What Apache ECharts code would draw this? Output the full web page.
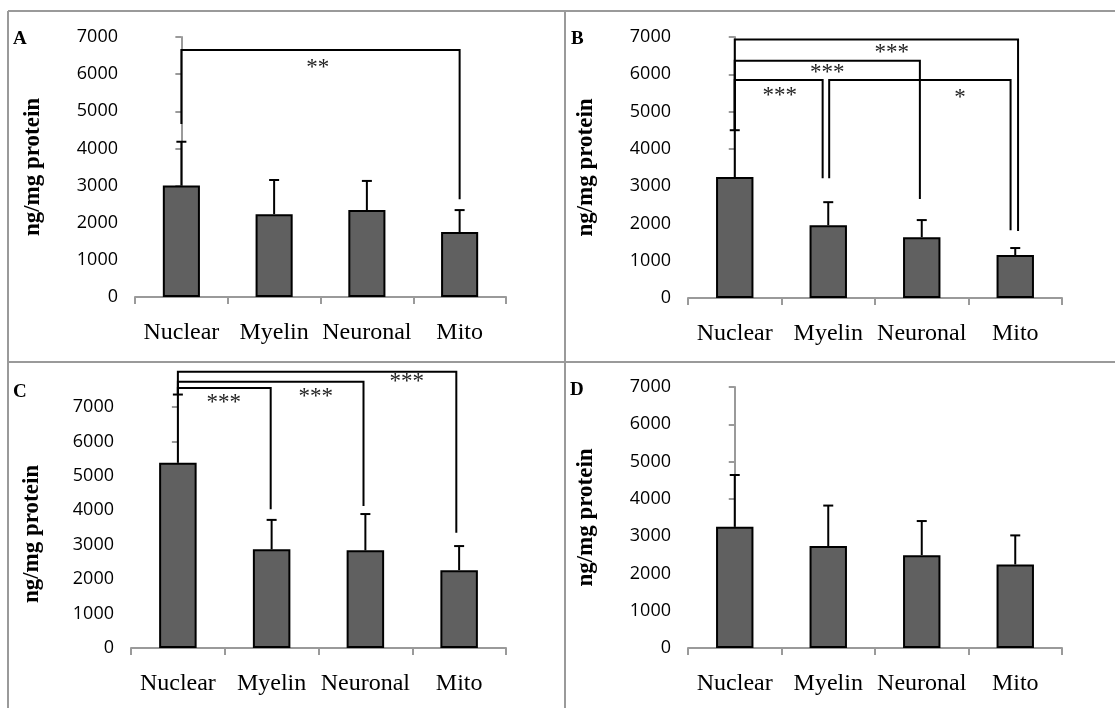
<!DOCTYPE html>
<html>
<head>
<meta charset="utf-8">
<script src="https://cdn.jsdelivr.net/npm/echarts@6/dist/echarts.min.js"></script>
<style>
  html, body { margin: 0; padding: 0; background: #fff; }
  #main { width: 1115px; height: 708px; }
</style>
</head>
<body>
<div id="main"></div>
<script>
var categories = ['Nuclear', 'Myelin', 'Neuronal', 'Mito'];
var yTicks = [0, 1000, 2000, 3000, 4000, 5000, 6000, 7000];
var panelNames = ['A', 'B', 'C', 'D'];

// mean values and SD (error bar length, upper side only)
var meanA = [3000, 2230, 2340, 1750];
var sdA = [1180, 920, 785, 590];
var meanB = [3245, 1950, 1630, 1150];
var sdB = [1255, 620, 460, 190];
var meanC = [5380, 2865, 2835, 2260];
var sdC = [1980, 855, 1055, 700];
var meanD = [3250, 2735, 2490, 2240];
var sdD = [1390, 1085, 915, 780];

// significance brackets: [xFrom, xTo, yBar, yEndFrom, yEndTo] (x in category index units)
var bracketsA = [[0, 3, 6650, 4660, 2630]];
var bracketsB = [[0, 3.03, 6935, 4500, 1800], [0, 1.98, 6360, 4500, 2655], [0, 0.94, 5845, 4500, 3210], [1.01, 2.95, 5845, 3210, 1820]];
var bracketsC = [[0, 2.97, 8020, 7360, 3350], [0, 1.98, 7730, 7360, 4125], [0, 0.99, 7550, 7360, 4030]];
var bracketsD = [];

// star labels: [x, y, text]
var starsA = [[1.47, 6245, '**']];
var starsB = [[0.48, 5500, '***'], [0.99, 6110, '***'], [1.68, 6650, '***'], [2.41, 5440, '*']];
var starsC = [[0.49, 7210, '***'], [1.47, 7380, '***'], [2.44, 7800, '***']];
var starsD = [];

var yMax = [7000, 7000, 7550, 7000];

var panels = [
    { mean: meanA, sd: sdA, brackets: bracketsA, stars: starsA },
    { mean: meanB, sd: sdB, brackets: bracketsB, stars: starsB },
    { mean: meanC, sd: sdC, brackets: bracketsC, stars: starsC },
    { mean: meanD, sd: sdD, brackets: bracketsD, stars: starsD }
];

var grids = [
    { left: 135, top: 37, width: 371, height: 260 },
    { left: 688, top: 37, width: 374, height: 261 },
    { left: 131, top: 388, width: 375, height: 260 },
    { left: 688, top: 387, width: 374, height: 261 }
];
var titlePos = [[13, 30], [571, 30], [13, 383], [570, 381]];
var nameGaps = [90, 90, 87, 90];
var namePads = [[0, 0, 0, 0], [0, 0, 0, 0], [0, 32, 0, 0], [0, 0, 0, 0]];

var axisGray = '#9a9a9a';
var chart = echarts.init(document.getElementById('main'), null, { renderer: 'canvas' });

var xAxes = [], yAxes = [], series = [];

panels.forEach(function (p, i) {
    xAxes.push({
        type: 'category',
        gridIndex: i,
        data: categories,
        axisLine: { lineStyle: { color: axisGray, width: 2 } },
        axisTick: { show: true, length: 7, lineStyle: { color: axisGray, width: 2 } },
        axisLabel: { interval: 0, color: '#000', fontFamily: 'Liberation Serif', fontSize: 24, margin: 24 }
    });
    xAxes.push({
        type: 'value',
        gridIndex: i,
        min: -0.5,
        max: 3.5,
        show: false
    });
    yAxes.push({
        type: 'value',
        gridIndex: i,
        min: 0,
        max: yMax[i],
        interval: 1000,
        name: 'ng/mg protein',
        nameLocation: 'middle',
        nameGap: nameGaps[i],
        nameTextStyle: {
            color: '#000', fontFamily: 'Liberation Serif', fontWeight: 'bold', fontSize: 23,
            padding: namePads[i]
        },
        splitLine: { show: false },
        axisLine: { show: true, lineStyle: { color: axisGray, width: 2 } },
        axisTick: { show: true, length: 6, customValues: yTicks, lineStyle: { color: axisGray, width: 2 } },
        axisLabel: {
            color: '#000', fontFamily: 'Open Sans', fontSize: 18, margin: 17, customValues: yTicks,
            formatter: function (v) { return String(v); }
        }
    });

    series.push({
        type: 'bar',
        xAxisIndex: i * 2,
        yAxisIndex: i,
        barWidth: '40%',
        data: p.mean,
        itemStyle: { color: '#606060', borderColor: '#000', borderWidth: 2 },
        z: 2
    });

    series.push({
        type: 'custom',
        xAxisIndex: i * 2 + 1,
        yAxisIndex: i,
        clip: false,
        z: 3,
        data: p.mean.map(function (m, k) { return [k, m, m + p.sd[k]]; }),
        renderItem: function (params, api) {
            var a = api.coord([api.value(0), api.value(1)]);
            var b = api.coord([api.value(0), api.value(2)]);
            var style = { stroke: '#000', lineWidth: 2 };
            return {
                type: 'group',
                children: [
                    { type: 'line', shape: { x1: a[0], y1: a[1], x2: b[0], y2: b[1] }, style: style },
                    { type: 'line', shape: { x1: b[0] - 5, y1: b[1], x2: b[0] + 5, y2: b[1] }, style: style }
                ]
            };
        }
    });

    if (p.brackets.length) {
        series.push({
            type: 'custom',
            xAxisIndex: i * 2 + 1,
            yAxisIndex: i,
            clip: false,
            z: 4,
            data: p.brackets,
            renderItem: function (params, api) {
                var p1 = api.coord([api.value(0), api.value(3)]);
                var p2 = api.coord([api.value(0), api.value(2)]);
                var p3 = api.coord([api.value(1), api.value(2)]);
                var p4 = api.coord([api.value(1), api.value(4)]);
                return {
                    type: 'polyline',
                    shape: { points: [p1, p2, p3, p4] },
                    style: { stroke: '#000', lineWidth: 2, fill: null }
                };
            }
        });
    }

    if (p.stars.length) {
        series.push({
            type: 'custom',
            xAxisIndex: i * 2 + 1,
            yAxisIndex: i,
            clip: false,
            z: 4,
            data: p.stars.map(function (s) { return [s[0], s[1]]; }),
            renderItem: function (params, api) {
                var c = api.coord([api.value(0), api.value(1)]);
                return {
                    type: 'text',
                    x: c[0],
                    y: c[1] + 3,
                    style: {
                        text: p.stars[params.dataIndex][2],
                        fill: '#222',
                        font: '23px "Liberation Serif"',
                        align: 'center',
                        verticalAlign: 'middle'
                    }
                };
            }
        });
    }
});

var frameColor = '#9a9a9a';
var graphics = [
    { type: 'line', shape: { x1: 8, y1: 11, x2: 1115, y2: 11 }, style: { stroke: frameColor, lineWidth: 2 } },
    { type: 'line', shape: { x1: 8, y1: 11, x2: 8, y2: 708 }, style: { stroke: frameColor, lineWidth: 2 } },
    { type: 'line', shape: { x1: 8, y1: 362, x2: 1115, y2: 362 }, style: { stroke: frameColor, lineWidth: 2 } },
    { type: 'line', shape: { x1: 565, y1: 11, x2: 565, y2: 708 }, style: { stroke: frameColor, lineWidth: 2 } }
];
panelNames.forEach(function (n, i) {
    graphics.push({
        type: 'text',
        x: titlePos[i][0],
        y: titlePos[i][1],
        style: { text: n, fill: '#000', font: 'bold 19px "Liberation Serif"' }
    });
});

var option = {
    animation: false,
    grid: grids,
    xAxis: xAxes,
    yAxis: yAxes,
    series: series,
    graphic: graphics
};

chart.setOption(option);

window.addEventListener('resize', function () {
    chart.resize();
});
</script>
</body>
</html>
